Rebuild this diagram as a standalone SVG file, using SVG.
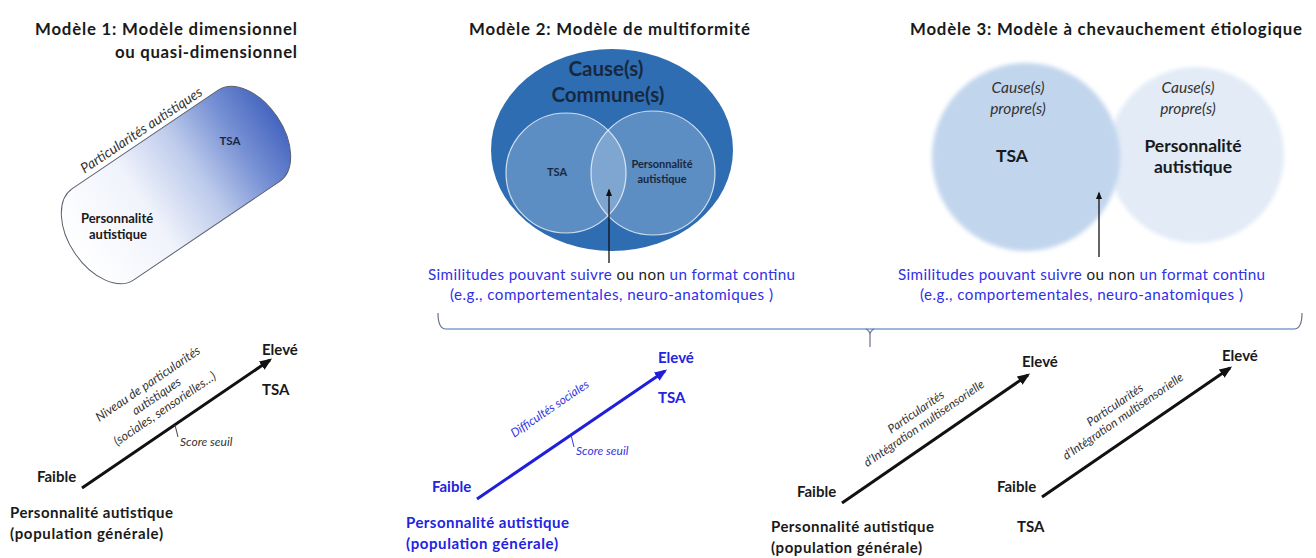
<svg xmlns="http://www.w3.org/2000/svg" width="1316" height="558" viewBox="0 0 1316 558">
<style>
text{font-family:Lato,"Liberation Sans",sans-serif;fill:#1a1a1a}
.t{font-size:16.8px;font-weight:bold}
.b{font-size:15px;font-weight:bold}
.bl{fill:#2323e0}
.sim{font-size:15.2px;fill:#2f2fe8}
.k{fill:#222}
.it{font-style:italic;font-size:12.5px;fill:#333}
.c{text-anchor:middle}
.navy{fill:#18283f}
</style>
<defs>
<linearGradient id="g1" x1="0" y1="0.5" x2="1" y2="0.5">
<stop offset="0" stop-color="#ffffff"/>
<stop offset="0.35" stop-color="#f0f3fb"/>
<stop offset="0.6" stop-color="#bccaeb"/>
<stop offset="0.8" stop-color="#7a93d5"/>
<stop offset="1" stop-color="#4565bf"/>
</linearGradient>
<filter id="soft" x="-10%" y="-10%" width="120%" height="120%"><feGaussianBlur stdDeviation="2"/></filter>
<marker id="ahk" viewBox="0 0 10 8" refX="8" refY="4" markerWidth="4.2" markerHeight="3.4" orient="auto"><path d="M0,0 L10,4 L0,8 Z" fill="#111"/></marker>
<marker id="ahb" viewBox="0 0 10 8" refX="8" refY="4" markerWidth="4.2" markerHeight="3.4" orient="auto"><path d="M0,0 L10,4 L0,8 Z" fill="#1f1fdb"/></marker>
<marker id="aht" viewBox="0 0 10 8" refX="8" refY="4" markerWidth="6" markerHeight="5" orient="auto"><path d="M0,0 L10,4 L0,8 Z" fill="#111"/></marker>
</defs>
<rect width="1316" height="558" fill="#ffffff"/>

<g id="titles">
<text class="t" x="297" y="35" text-anchor="end" textLength="262">Modèle 1: Modèle dimensionnel</text>
<text class="t" x="297" y="58" text-anchor="end" textLength="182">ou quasi-dimensionnel</text>
<text class="t" x="469" y="35" textLength="281">Modèle 2: Modèle de multiformité</text>
<text class="t" x="910" y="35" textLength="392">Modèle 3: Modèle à chevauchement étiologique</text>
</g>

<g id="model1-shape">
<g transform="translate(176,185) rotate(-34)">
<rect x="-122" y="-55" width="244" height="110" rx="34" ry="55" fill="url(#g1)" stroke="#5a5f70" stroke-width="1"/>
</g>
<text class="it" transform="translate(144,134) rotate(-33.7)" text-anchor="middle" style="font-size:14px">Particularités autistiques</text>
<text class="navy c" x="230" y="145" style="font-size:11.5px;font-weight:bold">TSA</text>
<text class="c" x="117" y="223" style="font-size:13px;font-weight:bold">Personnalité</text>
<text class="c" x="118" y="239" style="font-size:13px;font-weight:bold">autistique</text>
</g>

<g id="model2-venn">
<ellipse cx="612" cy="150" rx="121" ry="101" fill="#2f6db3"/>
<circle cx="566" cy="173" r="60" fill="#ffffff" fill-opacity="0.22" stroke="#ffffff" stroke-opacity="0.75" stroke-width="1.2"/>
<circle cx="653" cy="173" r="62" fill="#ffffff" fill-opacity="0.22" stroke="#ffffff" stroke-opacity="0.75" stroke-width="1.2"/>
<text class="navy c" x="606" y="76" style="font-size:20.5px;font-weight:bold">Cause(s)</text>
<text class="navy c" x="608" y="102" style="font-size:20.5px;font-weight:bold">Commune(s)</text>
<text class="navy c" x="557" y="176" style="font-size:11px;font-weight:bold">TSA</text>
<text class="navy c" x="662" y="168" style="font-size:11px;font-weight:bold">Personnalité</text>
<text class="navy c" x="662" y="183" style="font-size:11px;font-weight:bold">autistique</text>
</g>

<g id="model3-venn">
<circle cx="1196" cy="155" r="88" fill="#e2ebf6" filter="url(#soft)"/>
<circle cx="1026" cy="157" r="94" fill="#c1d5ed" filter="url(#soft)"/>
<text class="c" x="1018" y="93" style="font-size:15.5px;font-style:italic;fill:#333">Cause(s)</text>
<text class="c" x="1018" y="114" style="font-size:15.5px;font-style:italic;fill:#333">propre(s)</text>
<text class="c" x="1188" y="93" style="font-size:15.5px;font-style:italic;fill:#333">Cause(s)</text>
<text class="c" x="1188" y="114" style="font-size:15.5px;font-style:italic;fill:#333">propre(s)</text>
<text class="c" x="1012" y="162" style="font-size:17.5px;font-weight:bold">TSA</text>
<text class="c" x="1193" y="152" style="font-size:17.5px;font-weight:bold">Personnalité</text>
<text class="c" x="1193" y="173" style="font-size:17.5px;font-weight:bold">autistique</text>
</g>

<g id="similitudes-2">
<text class="sim" x="428" y="280" textLength="367">Similitudes pouvant suivre <tspan class="k">ou non</tspan> un format continu</text>
<text class="sim" x="450" y="300" textLength="323">(e.g., comportementales, neuro-anatomiques )</text>
</g>
<g id="similitudes-3">
<text class="sim" x="898" y="280" textLength="367">Similitudes pouvant suivre <tspan class="k">ou non</tspan> un format continu</text>
<text class="sim" x="920" y="300" textLength="323">(e.g., comportementales, neuro-anatomiques )</text>
</g>

<g id="model1-axis">
<text class="b" x="262" y="355">Elevé</text>
<text class="b" x="262" y="395">TSA</text>
<text class="b" x="37" y="482">Faible</text>
<text class="b" x="10" y="518" textLength="163">Personnalité autistique</text>
<text class="b" x="10" y="539" textLength="153">(population générale)</text>
<g transform="translate(148,384) rotate(-34.2)">
<text class="it c" x="0" y="4">Niveau de particularités</text>
<text class="it c" x="0" y="19">autistiques</text>
<text class="it c" x="0" y="34">(sociales, sensorielles…)</text>
</g>
<text class="it" x="180" y="446" style="font-size:12px">Score seuil</text>
</g>

<g id="model2-axis">
<text class="b bl" x="658" y="363">Elevé</text>
<text class="b bl" x="658" y="403">TSA</text>
<text class="b bl" x="432" y="492">Faible</text>
<text class="b bl" x="406" y="528" textLength="163">Personnalité autistique</text>
<text class="b bl" x="406" y="549" textLength="152">(population générale)</text>
<text class="it" transform="translate(552,412) rotate(-34.3)" text-anchor="middle" style="fill:#3535e0;font-size:12px">Difficultés sociales</text>
<text class="it" x="576" y="455" style="fill:#3535e0;font-size:12px">Score seuil</text>
</g>

<g id="model3-axis-a">
<text class="b" x="1022" y="367">Elevé</text>
<text class="b" x="797" y="497">Faible</text>
<text class="b" x="771" y="532" textLength="163">Personnalité autistique</text>
<text class="b" x="771" y="553" textLength="151">(population générale)</text>
<g transform="translate(916,412) rotate(-34.5)">
<text class="it c" x="0" y="4" style="font-size:12px">Particularités</text>
<text class="it c" x="0" y="18" style="font-size:12px">d’Intégration multisensorielle</text>
</g>
</g>

<g id="model3-axis-b">
<text class="b" x="1222" y="361">Elevé</text>
<text class="b" x="997" y="492">Faible</text>
<text class="b" x="1017" y="532">TSA</text>
<g transform="translate(1115,405) rotate(-34.5)">
<text class="it c" x="0" y="4" style="font-size:12px">Particularités</text>
<text class="it c" x="0" y="18" style="font-size:12px">d’Intégration multisensorielle</text>
</g>
</g>

<g id="connectors" fill="none">
<line x1="609" y1="263" x2="609" y2="190" stroke="#111" stroke-width="1.3" marker-end="url(#aht)"/>
<line x1="1099" y1="257" x2="1099" y2="193" stroke="#111" stroke-width="1.3" marker-end="url(#aht)"/>
<line x1="82" y1="488" x2="270" y2="360" stroke="#111" stroke-width="3" marker-end="url(#ahk)"/>
<line x1="477" y1="499" x2="665" y2="371" stroke="#1f1fdb" stroke-width="3" marker-end="url(#ahb)"/>
<line x1="842" y1="503" x2="1028" y2="375" stroke="#111" stroke-width="3" marker-end="url(#ahk)"/>
<line x1="1042" y1="497" x2="1230" y2="368" stroke="#111" stroke-width="3" marker-end="url(#ahk)"/>
<line x1="175" y1="425" x2="178" y2="437" stroke="#444" stroke-width="1"/>
<line x1="571" y1="435" x2="574" y2="447" stroke="#3535e0" stroke-width="1"/>
<path d="M446,329 L1294,329" stroke="#9db6da" stroke-width="2"/>
<path d="M438,313 Q438,329 446,329 M1302,313 Q1302,329 1294,329" stroke="#6a7388" stroke-width="1.2"/>
<path d="M866,329 Q870,331 870,335 L870,347 M874,329 Q870,331 870,335" stroke="#6a7388" stroke-width="1.2"/>
</g>
</svg>
